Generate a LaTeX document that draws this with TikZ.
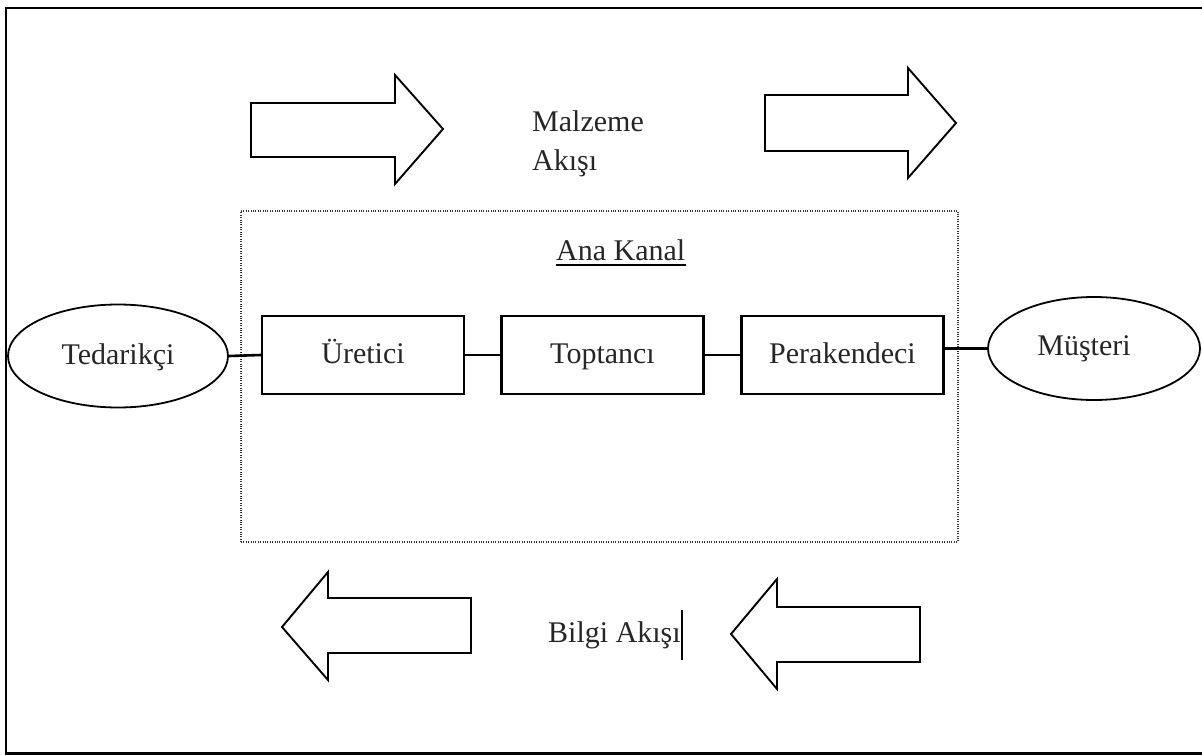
\documentclass[tikz,border=0pt]{standalone}
\usepackage{fontspec}
\setmainfont{Liberation Serif}
\usetikzlibrary{shapes.geometric}
\begin{document}
\begin{tikzpicture}[x=1pt,y=-1pt,
  every node/.style={font=\fontsize{30}{39}\selectfont, inner sep=0pt, text=black!85},
  lbl/.style={text height=21pt,text depth=5pt},
  boxnode/.style={draw, line width=2.4pt, minimum width=202pt, minimum height=78pt, lbl},
  ellnode/.style={draw, ellipse, line width=1.8pt},
  link/.style={line width=2.6pt},
  blockarrow/.style={draw, line width=1.9pt, line join=miter},
  frame/.style={line width=2.8pt},
  dotbox/.style={draw, line width=1.3pt, dash pattern=on 1pt off 1.4pt, black!80}]
\useasboundingbox (0,0) rectangle (1202,755);
% outer frame (right side cut off)
\draw[frame] (1202,8) -- (6,8) -- (6,753.5) -- (1202,753.5);

% main channel dotted box
\node[dotbox, minimum width=717pt, minimum height=331pt] (kanal) at (599.5,376.5) {};

% flow arrows
\draw[blockarrow] (251,103) -- (395,103) -- (395,75) -- (443,129) -- (395,184) -- (395,157) -- (251,157) -- cycle;
\draw[blockarrow] (765,95) -- (908,95) -- (908,68) -- (956,123) -- (908,178) -- (908,151) -- (765,151) -- cycle;
\draw[blockarrow] (471,598) -- (328,598) -- (328,572) -- (282,627) -- (328,680) -- (328,653) -- (471,653) -- cycle;
\draw[blockarrow] (920,607) -- (777,607) -- (777,579) -- (731,634) -- (777,689) -- (777,662) -- (920,662) -- cycle;

% texts
\node[anchor=base west, align=left] (malz) at (532,170) {Malzeme\\Akışı};
\node[anchor=base west] (ana) at (556,260) {Ana Kanal};
\draw[line width=1.3pt] ([yshift=-5pt]ana.base west) -- ([yshift=-5pt]ana.base east);
\node[anchor=base west] (bil) at (548,642) {Bilgi Akışı};
\draw[line width=1.4pt] (682,610) -- (682,660);

% chain
\node[ellnode, minimum width=220pt, minimum height=103pt, lbl] (ted) at (118,356) {Tedarikçi};
\node[boxnode] (ure) at (363,355) {Üretici};
\node[boxnode] (top) at (602.5,355) {Toptancı};
\node[boxnode] (per) at (842.5,355) {Perakendeci};
\node[ellnode, minimum width=212pt, minimum height=103pt] (mus) at (1094,348.5) {};
\node[lbl] (muslbl) at (1084,347) {Müşteri};

\draw[link] (ted.east) -- (ure.west);
\draw[link] (ure.east) -- (top.west);
\draw[link] (top.east) -- (per.west);
\draw[link] (per.east |- mus.west) -- (mus.west);
\end{tikzpicture}
\end{document}
